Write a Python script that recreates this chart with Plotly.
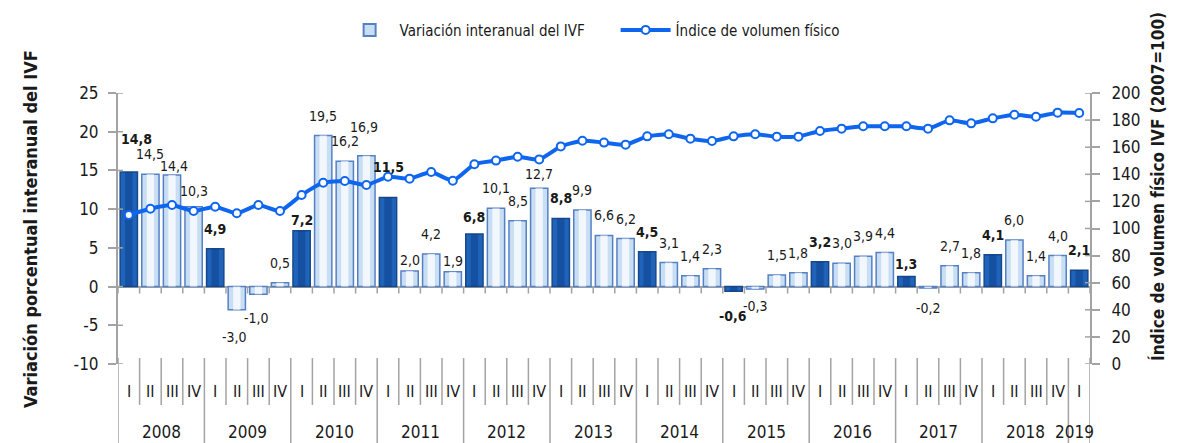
import plotly.graph_objects as go

years = [str(y) for y in range(2008, 2020)]
quarters = ["I", "II", "III", "IV"]

# Year-on-year variation of IVF (%), quarterly 2008-I .. 2019-I
ivf_var = [14.8, 14.5, 14.4, 10.3,
           4.9, -3.0, -1.0, 0.5,
           7.2, 19.5, 16.2, 16.9,
           11.5, 2.0, 4.2, 1.9,
           6.8, 10.1, 8.5, 12.7,
           8.8, 9.9, 6.6, 6.2,
           4.5, 3.1, 1.4, 2.3,
           -0.6, -0.3, 1.5, 1.8,
           3.2, 3.0, 3.9, 4.4,
           1.3, -0.2, 2.7, 1.8,
           4.1, 6.0, 1.4, 4.0,
           2.1]

# Physical volume index (2007=100)
ivf_index = [110.0, 114.6, 117.3, 112.9,
             116.1, 111.2, 117.3, 112.9,
             124.7, 133.8, 135.0, 132.1,
             138.2, 136.8, 141.7, 135.3,
             147.4, 150.1, 153.0, 151.0,
             160.6, 164.8, 163.4, 161.9,
             168.0, 169.5, 166.3, 164.6,
             168.0, 169.5, 167.8, 167.8,
             172.0, 173.7, 175.4, 175.4,
             175.4, 173.7, 179.8, 177.6,
             181.3, 184.0, 182.5, 185.5,
             185.2]

left_ticks = [-10, -5, 0, 5, 10, 15, 20, 25]
right_ticks = [0, 20, 40, 60, 80, 100, 120, 140, 160, 180, 200]

n = len(ivf_var)
xs = list(range(n))
qlab = [quarters[i % 4] for i in range(n)]
is_q1 = [i % 4 == 0 for i in range(n)]

# data-label placement tweaks (pixel distance of label centre from bar end; x nudge)
LABEL_GAP = 20
label_nudge = {0: (8, 33), 2: (2, 9), 3: (0, 16), 5: (-2, 27), 6: (-2, 24), 8: (0, 11),
               11: (-2, 29), 12: (0, 31), 13: (0, 11), 15: (0, 11), 16: (0, 17),
               19: (0, 14), 28: (-1, 25), 29: (0, 17), 36: (0, 13)}

FONT = "Liberation Sans Narrow, DejaVu Sans Condensed, sans-serif"
DARK = "#1f64ba"
DARK_EDGE = "#17498a"
LIGHT = "#c8def2"
LIGHT_EDGE = "#5580c4"
LINE = "#0f66ee"
GRAY = "#a3a3a3"
TXT = "#1a1a1a"

fig = go.Figure()

fig.add_trace(go.Bar(
    x=xs, y=ivf_var, width=0.8,
    marker=dict(color=[DARK if q else LIGHT for q in is_q1],
                line=dict(color=[DARK_EDGE if q else LIGHT_EDGE for q in is_q1], width=1.5)),
    showlegend=False, hoverinfo="y",
))
# glossy centre strip
fig.add_trace(go.Bar(
    x=xs, y=ivf_var, width=0.34,
    marker=dict(color=["rgba(10,55,130,0.45)" if q else "rgba(255,255,255,0.75)" for q in is_q1],
                line=dict(width=0)),
    showlegend=False, hoverinfo="skip",
))
# legend entry for bars
fig.add_trace(go.Bar(
    x=[None], y=[None], name="Variación interanual del IVF",
    marker=dict(color=LIGHT, line=dict(color=LIGHT_EDGE, width=2)),
))
fig.add_trace(go.Scatter(
    x=xs, y=ivf_index, yaxis="y2", mode="lines+markers",
    name="Índice de volumen físico",
    line=dict(color=LINE, width=4, shape="spline", smoothing=0.5),
    marker=dict(symbol="circle", size=8, color="white", line=dict(color=LINE, width=2)),
    cliponaxis=False,
))

shapes = []
# small ticks on the zero line at category boundaries
for k in range(n + 1):
    b = k - 0.5
    shapes.append(dict(type="line", xref="x", yref="y", x0=b, x1=b, y0=0, y1=-0.9,
                       line=dict(color=GRAY, width=1.5)))
# separators below the plot
for k in range(n + 1):
    b = k - 0.5
    if k % 4 == 0 or k == n:
        y0, y1 = 0.022, -0.32
    else:
        y0, y1 = 0.022, -0.151
    shapes.append(dict(type="line", xref="x", yref="paper", x0=b, x1=b, y0=y0, y1=y1,
                       line=dict(color=GRAY, width=1.5)))
# inner halves of the axis ticks (cross-shaped ticks)
for v in left_ticks:
    shapes.append(dict(type="line", xref="paper", yref="y", x0=0, x1=5 / 972, y0=v, y1=v,
                       line=dict(color=GRAY, width=1.5)))
for v in right_ticks:
    shapes.append(dict(type="line", xref="paper", yref="y2", x0=1 - 5 / 972, x1=1, y0=v, y1=v,
                       line=dict(color=GRAY, width=1.5)))

annotations = []
# data labels
for i, v in enumerate(ivf_var):
    dx, dy = label_nudge.get(i, (0, LABEL_GAP))
    txt = f"{v:.1f}".replace(".", ",")
    if is_q1[i]:
        txt = f"<b>{txt}</b>"
    annotations.append(dict(x=i, y=v, xref="x", yref="y", text=txt, showarrow=False,
                            xshift=dx, yshift=dy if v >= 0 else -dy, yanchor="middle",
                            font=dict(family=FONT, size=14, color=TXT)))
for i in range(n):
    annotations.append(dict(x=i, y=-0.103, xref="x", yref="paper", text=qlab[i],
                            showarrow=False, font=dict(family=FONT, size=16, color=TXT),
                            yanchor="middle"))
for j, yr in enumerate(years):
    start = 4 * j
    end = min(4 * j + 3, n - 1)
    annotations.append(dict(x=(start + end) / 2 + (0.0 if end > start else -0.2), y=-0.252,
                            xref="x", yref="paper", text=yr, showarrow=False,
                            font=dict(family=FONT, size=17, color=TXT), yanchor="middle"))
annotations.append(dict(x=-0.1029, y=0.50, xref="paper", yref="paper",
                        text="<b>Variación porcentual interanual del IVF</b>", textangle=-90,
                        showarrow=False, font=dict(family=FONT, size=18, color=TXT)))
annotations.append(dict(x=1.0823, y=0.655, xref="paper", yref="paper",
                        text="<b>Índice de volumen físico IVF (2007=100)</b>", textangle=-90,
                        showarrow=False, font=dict(family=FONT, size=17, color=TXT)))

# figure is offset by the 8px page margin, so size/margins compensate
fig.update_layout(
    width=1177, height=435,
    margin=dict(l=110, r=95, t=85, b=79, autoexpand=False),
    paper_bgcolor="white", plot_bgcolor="white",
    barmode="overlay",
    separators=",.",
    font=dict(family=FONT, color=TXT),
    xaxis=dict(range=[-0.5, n - 0.5], showticklabels=False, showgrid=False,
               zeroline=False, showline=False, ticks=""),
    yaxis=dict(range=[-10, 25], tickmode="array", tickvals=left_ticks,
               ticktext=[str(v) for v in left_ticks], showgrid=False, zeroline=True,
               zerolinecolor=GRAY, zerolinewidth=2, showline=True, linecolor=GRAY,
               linewidth=2, ticks="outside", ticklen=8, tickcolor=GRAY, tickwidth=1.5,
               ticklabelstandoff=6, tickfont=dict(family=FONT, size=17, color=TXT)),
    yaxis2=dict(range=[0, 200], tickmode="array", tickvals=right_ticks,
                ticktext=[str(v) for v in right_ticks], overlaying="y", side="right",
                showgrid=False, zeroline=False, showline=True, linecolor=GRAY, linewidth=2,
                ticks="outside", ticklen=8, tickcolor=GRAY, tickwidth=1.5,
                ticklabelstandoff=8, tickfont=dict(family=FONT, size=17, color=TXT)),
    legend=dict(orientation="h", x=0.228, xanchor="left", y=1.232, yanchor="middle",
                font=dict(family=FONT, size=15, color=TXT), itemwidth=50, entrywidth=211,
                bgcolor="rgba(0,0,0,0)", traceorder="normal"),
    shapes=shapes,
    annotations=annotations,
    showlegend=True,
)

fig.write_html("out.html")
